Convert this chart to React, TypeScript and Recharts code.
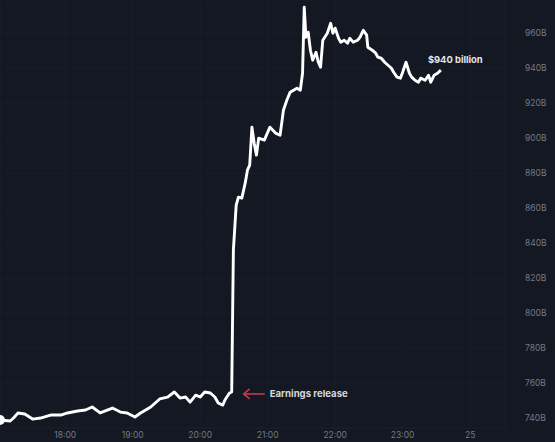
import { LineChart, Line, XAxis, YAxis, CartesianGrid, ReferenceDot } from 'recharts';

// minutes after 17:00
const times = [
  2, 11, 14, 18, 24, 31, 38, 47, 56, 62, 71, 78, 84, 91, 102, 109, 115, 122, 127, 136,
  144, 151, 157, 162, 167, 171, 176, 180, 184, 189, 193, 196, 200, 202, 206, 208, 209.5, 212,
  214, 217, 220, 222, 224, 226, 228, 230, 232, 237, 242, 247, 251, 254, 257, 260, 266, 269,
  271, 272.5, 274, 276, 278, 280, 283, 285, 287, 289, 293, 296, 298, 300, 303, 305, 308, 311,
  313, 316, 320, 322, 325, 328, 329, 333, 336, 338, 341, 344, 347, 350, 352, 355, 358, 360,
  363, 366, 368, 371, 374, 376, 380, 383, 385, 388, 391, 394,
];

// market cap, billions of dollars
const values = [
  738.9, 738.3, 740, 742.9, 742.3, 739.4, 740, 741.7, 741.7, 742.9, 744, 744.6, 746.3, 742.9,
  745.7, 743.4, 742.9, 740.6, 742.9, 746.3, 750.9, 752, 754.9, 751.4, 752, 749.1, 753.1, 752,
  754.9, 754.3, 752, 748.6, 747.4, 750.3, 754.3, 754.9, 836, 861.7, 866.3, 865.7, 874.3, 881.7,
  884.6, 906.3, 897.1, 890.3, 900, 898.9, 906.3, 902.9, 901.7, 916, 921.7, 926.3, 928.6, 927.4,
  937.1, 974.9, 957.7, 960.6, 950.3, 944.6, 949.1, 943.4, 940.6, 956, 960, 965.7, 960, 962.9,
  957.1, 954.9, 956, 954.3, 957.1, 954.9, 956, 957.7, 961.7, 958.9, 952, 950.3, 948.6, 946.3,
  945.7, 943.4, 941.7, 940, 937.7, 934.9, 934.3, 937.7, 943.4, 937.1, 934.9, 933.1, 932, 934.3,
  933.1, 936, 932, 936, 937.1, 938.9,
];

const timeTicks = [60, 120, 180, 240, 300, 360, 420];
const timeLabels = ['18:00', '19:00', '20:00', '21:00', '22:00', '23:00', '25'];
const capTicks = [740, 760, 780, 800, 820, 840, 860, 880, 900, 920, 940, 960];

const data = times.map((t, i) => ({ t, v: values[i] }));

const BG = '#141823';
const FONT = 'Inter, "Noto Sans", sans-serif';

const ReleaseLabel = ({ cx, cy }: any) => (
  <g>
    <line x1={cx + 12} y1={cy + 2} x2={cx + 33} y2={cy + 2} stroke="#c23a4b" strokeWidth={1.6} />
    <path d={`M ${cx + 18} ${cy - 3} L ${cx + 12} ${cy + 2} L ${cx + 18} ${cy + 7}`} fill="none" stroke="#c23a4b" strokeWidth={1.6} />
    <text x={cx + 38} y={cy + 2} dy="0.35em" fill="#d6d8dd" fontSize={9.6} fontWeight={700} fontFamily={FONT}>
      Earnings release
    </text>
  </g>
);

const LastLabel = ({ cx, cy }: any) => (
  <text x={cx - 13} y={cy - 10} dy="0.35em" fill="#e4e6ea" fontSize={9.4} fontWeight={700} fontFamily={FONT}>
    $940 billion
  </text>
);

export default function App() {
  return (
    <div style={{ position: 'absolute', left: 0, top: 0, width: 555, height: 442, background: BG }}>
      <LineChart width={555} height={442} data={data} margin={{ top: 0, right: 0, left: 0, bottom: 0 }}>
        <CartesianGrid stroke="#1a1e2a" strokeWidth={1} />
        <XAxis
          dataKey="t"
          type="number"
          domain={[2, 451]}
          ticks={timeTicks}
          tickFormatter={(v) => timeLabels[timeTicks.indexOf(v)]}
          axisLine={false}
          tickLine={false}
          tickSize={0}
          tickMargin={4}
          height={14}
          tick={{ fontSize: 8.5, fill: '#737884', fontFamily: FONT }}
        />
        <YAxis
          orientation="right"
          type="number"
          domain={[734.3, 979]}
          ticks={capTicks}
          tickFormatter={(v) => `${v}B`}
          axisLine={false}
          tickLine={false}
          tickSize={0}
          tickMargin={20}
          width={50}
          tick={{ fontSize: 8.5, fill: '#737884', fontFamily: FONT }}
        />
        <Line
          type="linear"
          dataKey="v"
          stroke="#ffffff"
          strokeWidth={2.9}
          strokeLinejoin="round"
          dot={false}
          isAnimationActive={false}
        />
        <ReferenceDot x={208} y={754.9} r={0} shape={<ReleaseLabel />} />
        <ReferenceDot x={394} y={938.9} r={0} shape={<LastLabel />} />
      </LineChart>
    </div>
  );
}
